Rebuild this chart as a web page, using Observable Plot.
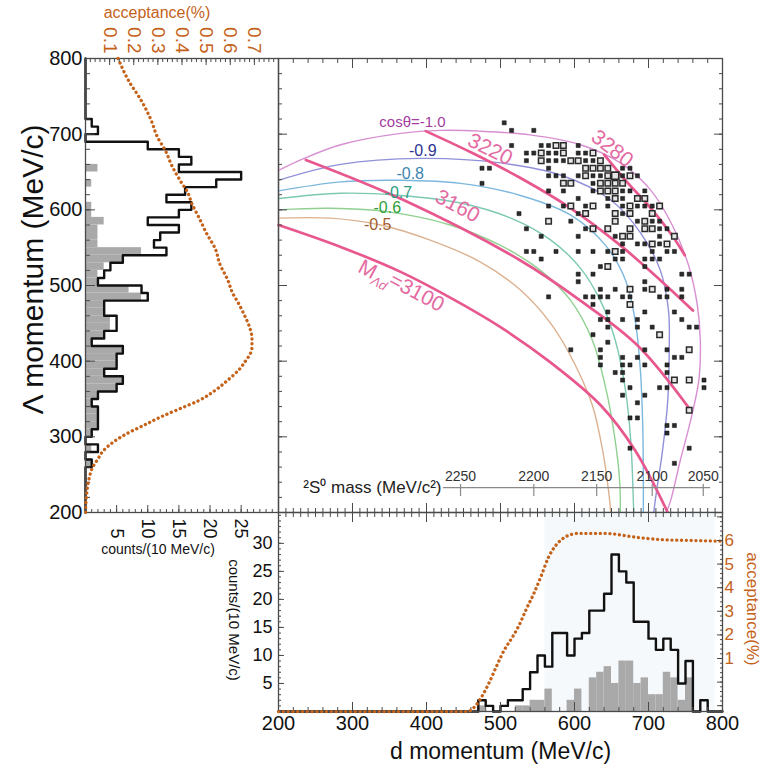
<!DOCTYPE html>
<html>
<head>
<meta charset="utf-8">
<script src="https://cdn.jsdelivr.net/npm/d3@7"></script>
<script src="https://cdn.jsdelivr.net/npm/@observablehq/plot@0.6"></script>
<style>
  html, body { margin: 0; padding: 0; background: #fff; }
  #chart { position: relative; width: 773px; height: 767px; overflow: hidden; }
  #chart svg { position: absolute; left: 0; top: 0; }
</style>
</head>
<body>
<div id="chart"></div>
<script>
// ================= DATA =================
// Λ-momentum projection (left panel), 10 MeV/c bins (bin start)
const lamBins = [200,210,220,230,240,250,260,270,280,290,300,310,320,330,340,350,360,370,380,390,
                 400,410,420,430,440,450,460,470,480,490,500,510,520,530,540,550,560,570,580,590,
                 600,610,620,630,640,650,660,670,680,690,700,710,720,730,740,750,760,770,780,790];
const lamBlack = [0,0,0,0,0,0,1,0,2,0, 1,2,2,2,1,2,5,6,3,5, 5,6,1,3,5,5,3,3,10,9,
                  2,3,4,6,13,11,12,15,10,15, 17,13,16,21,25,15,17,15,10,0, 2,1,0,0,0,0,0,0,0,0];
const lamGray  = [0,0,0,0,0,0,1,0,1,0, 1,2,2,2,1,2,5,6,3,5, 5,6,1,3,4,4,3,3,9,7,
                  2,2,3,6,9,2,2,2,3,1, 1,0,0,1,0,2,0,0,0,0, 0,0,0,0,0,0,0,0,0,0];

// d-momentum projection (bottom panel), 10 MeV/c bins (bin start)
const dBins = [200,210,220,230,240,250,260,270,280,290,300,310,320,330,340,350,360,370,380,390,
               400,410,420,430,440,450,460,470,480,490,500,510,520,530,540,550,560,570,580,590,
               600,610,620,630,640,650,660,670,680,690,700,710,720,730,740,750,760,770,780,790];
const dBlack = [0,0,0,0,0,0,0,0,0,0, 0,0,0,0,0,0,0,0,0,0, 0,0,0,0,0,0,0,2,1,0,
                1,2,2,4,7,10,8,14,14,10, 13,14,18,18,21,28,25,23,16,16, 13,11,13,11,5,9,0,2,0,0];
const dGray  = [0,0,0,0,0,0,0,0,0,0, 0,0,0,0,0,0,0,0,0,0, 0,0,0,0,0,0,0,1,0,0,
                0,0,1,1,2,2,4,0,0,2, 4,0,6,7,8,5,9,9,5,6, 3,3,7,6,2,6,0,0,0,0];
const shadeBand = [560, 790];

// acceptance curves
const leftAccLam = [800,770,745,720,695,679,657,640,622,609,590,570,547,530,507,490,476,460,445,430,
                    418,408,401,390,375,362,348,337,326,315,304,293,282,270,260,245,225,200];
const leftAccVal = [0.135,0.18,0.23,0.27,0.30,0.33,0.36,0.39,0.425,0.44,0.47,0.50,0.54,0.555,0.59,0.61,0.635,0.66,0.68,0.69,
                    0.69,0.68,0.665,0.64,0.59,0.54,0.47,0.39,0.31,0.24,0.17,0.115,0.075,0.05,0.03,0.015,0.005,0];
const bottomAccD   = [200,455,465,475,485,495,505,515,525,535,545,555,565,575,585,595,605,640,685,716,760,800];
const bottomAccVal = [-1.25,-1.25,-1.05,-0.6,0.0,0.7,1.35,1.85,2.4,3.1,3.75,4.5,5.3,5.8,6.1,6.25,6.3,6.3,6.13,6.04,6.0,5.97];

// tick labels
const lamTicks = [200,300,400,500,600,700,800];
const dTicks = [200,300,400,500,600,700,800];
const leftCountTicks = [5,10,15,20,25];
const bottomCountTicks = [5,10,15,20,25,30];
const leftAccTicks = [0.1,0.2,0.3,0.4,0.5,0.6,0.7];
const rightAccTicks = [1,2,3,4,5,6];

// cos(theta) kinematic curves  [d momentum, Λ momentum]
const cosM10 = [[200,652],[230,666],[284,686],[365,701],[419,705],[473,704],[540,699],[608,686],[662,662],[703,626],[732,580],[754,527],[766,474],[770,428],[768,375],[757,322],[743,269],[730,216],[724,200]];
const cosM09 = [[200,639],[284,660],[392,668],[500,662],[581,646],[649,613],[689,570],[716,520],[727,467],[728,414],[726,348],[719,282],[711,229],[707,200]];
const cosM08 = [[200,625],[284,637],[365,639],[446,635],[527,619],[595,593],[642,553],[669,507],[682,454],[689,388],[692,322],[693,256],[693,200]];
const cosM07 = [[200,615],[284,622],[365,619],[446,609],[514,589],[568,560],[608,523],[635,480],[655,428],[669,361],[676,295],[680,200]];
const cosM06 = [[200,600],[270,602],[351,597],[432,580],[500,553],[554,520],[595,480],[624,428],[643,361],[655,295],[661,242],[662,200]];
const cosM05 = [[200,589],[270,589],[338,580],[405,560],[473,531],[527,494],[570,447],[601,395],[624,342],[638,282],[646,229],[649,200]];
const cosLabelText = ["cosθ=-1.0","-0.9","-0.8","-0.7","-0.6","-0.5"];
const cosLabelD   = [381,395,378,362,347,334];
const cosLabelLam = [716,678,648,622,603,580];

// invariant-mass M_Λd contours
const lineM3100 = [[200,580],[284,551],[365,518],[432,484],[500,445],[568,398],[635,342],[682,282],[726,200]];
const lineM3160 = [[237,666],[369,613],[527,533],[608,480],[685,421],[757,335]];
const lineM3220 = [[399,704],[460,676],[527,642],[595,602],[662,553],[716,507],[760,467]];
const lineM3280 = [[640,673],[669,639],[705,600],[732,566],[749,540]];
const mLabelText = ["M_Λd=3100","3160","3220","3280"];
const mLabelD    = [365,442,486,651];
const mLabelLam  = [498,605,680,681];

// 2S0 mass scale
const massLabels = [2250,2200,2150,2100,2050];
const massTickD  = [446,545,630,705,774];
const massAxisD  = [423,784];
const massAxisLam = 233;

// scatter: [Λ momentum, [d momentum | [d momentum, counts]]]
const scatterRows = [
  [715, [505]],
  [705, [515, 545]],
  [685, [515, 555, 565, [575,2], [585,2], 605]],
  [675, [535, 545, [555,2], 565, 575, [585,2], 605, 615, [625,2]]],
  [665, [535, [555,2], 565, 575, 585, [595,2], [605,2], 615, 625, [635,2]]],
  [655, [475, 485, 565, [615,2], [625,2], [635,2], [645,2], 665, 675]],
  [645, [565, 575, 585, 605, [615,2], 625, 635, [645,2], [655,3], 665, [675,2], 685]],
  [635, [475, [585,2], [595,2], 625, [635,2], [645,2], [655,2], [665,2]]],
  [625, [565, 585, 625, [635,2], [645,2], [655,2], 665, 675, 695]],
  [615, [605, 645, [655,2], 665, [685,2], [695,2]]],
  [605, [565, 585, [595,2], 615, [625,2], 645, 665, [675,2], 685, 695, 705, [715,2]]],
  [595, [525, 605, [615,2], [655,2], 665, [675,2], [705,2]]],
  [585, [[565,2], 595, [655,2], 685, [695,2], 705, 715]],
  [575, [535, 615, [625,2], [645,2], [675,2], [695,2], [705,2], 715, 725]],
  [565, [555, 605, 655, [665,2], [675,2], 715, [735,2]]],
  [555, [665, 685, 695, [705,2], 715, [725,2]]],
  [545, [535, 545, 575, 605, 625, 645, [655,2], 665, 705, 725, 735]],
  [535, [555, 655, 665, 695, 705, 715]],
  [525, [635, [645,2], 695]],
  [515, [605, 625, 745, 755]],
  [505, [605, 695]],
  [495, [635, 655, [675,2], 695, [705,2], 725, 745]],
  [485, [565, 615, 625, 635, 645, 665, 675, 715, 725, 745]],
  [475, [625, [675,2]]],
  [465, [645, 695, 735]],
  [455, [635, 645, 665, 685, 745]],
  [445, [645, 685, 705, 755, 765]],
  [435, [625, [715,2]]],
  [425, [645]],
  [415, [595, 635, 695, 725, [755,2]]],
  [405, [635, 665, 685, 735, 745]],
  [395, [635, 665, 675, 695, 725]],
  [385, [655, 665, 725]],
  [375, [665, [735,2], [755,2], 775]],
  [365, [675, 715, 725, 775]],
  [355, [665, 695]],
  [345, [685]],
  [335, [[755,2]]],
  [325, [675, 685]],
  [315, [725, 735]],
  [305, [725]],
  [285, [675, 755]],
  [265, [735]]
];

// ================= STYLE / LAYOUT =================
const W = 773, H = 767;
const FONT = '"Liberation Sans", Arial, Helvetica, sans-serif';
const ORANGE = "#c5621a";
const PINK = "#e8588f";
const PINK_TXT = "#e46aa2";
const FRAME = "#4a4a4a";
const GRAY = "#a9a9a9";
const INK = "#111";
const cosStroke = ["#d88fd2","#9090da","#7cb8de","#7cc8b2","#90d090","#dcb190"];
const cosText   = ["#a53c9f","#2d3591","#3b86b0","#2c9c84","#2fa03a","#a0602c"];
const mRotate = [28, 28, 26, 38];
const box = {left: 85, split: 278, right: 722, top: 58, splitY: 512, bottom: 711};

function layer(opts) {
  return Plot.plot(Object.assign({
    width: W, height: H,
    style: {background: "transparent", overflow: "visible", fontFamily: FONT}
  }, opts));
}
const tickOnly = {tickFormat: () => "", label: null, stroke: FRAME};
const dotted = {stroke: ORANGE, strokeWidth: 3.3, strokeDasharray: "0.1 4.7", strokeLinecap: "round"};
const centered = {textAnchor: "middle", lineAnchor: "middle"};

// ---------- left panel: counts ----------
const leftRows = lamBins.map((lo, i) => ({lo, hi: lo + 10, black: lamBlack[i], gray: lamGray[i]}));
const leftOutline = leftRows.flatMap(r => [{c: r.black, lam: r.lo}, {c: r.black, lam: r.hi}]);
const leftMargins = {marginLeft: box.left, marginRight: W - box.split, marginTop: box.top, marginBottom: H - box.splitY};

const leftCounts = layer({
  ...leftMargins,
  x: {domain: [0, 31], axis: null, label: null},
  y: {domain: [200, 800], axis: null, label: null},
  marks: [
    Plot.rect(leftRows.filter(r => r.gray > 0), {x1: 0, x2: "gray", y1: "lo", y2: "hi", fill: GRAY}),
    Plot.line(leftOutline, {x: "c", y: "lam", stroke: INK, strokeWidth: 2.4}),
    Plot.frame({stroke: FRAME, strokeWidth: 1.3}),
    Plot.axisY({anchor: "left", ticks: d3.range(200, 801, 20), tickSize: -5, ...tickOnly}),
    Plot.axisY({anchor: "left", ticks: lamTicks, tickSize: -10, ...tickOnly}),
    Plot.axisY({anchor: "left", ticks: lamTicks, tickSize: 0, tickPadding: 3, fontSize: 20, label: null, fill: INK}),
    Plot.axisX({anchor: "bottom", ticks: d3.range(0, 31, 1), tickSize: -3, ...tickOnly}),
    Plot.axisX({anchor: "bottom", ticks: leftCountTicks, tickSize: -7, ...tickOnly}),
    Plot.text(leftCountTicks, {x: d => d, text: d => String(d), frameAnchor: "bottom", rotate: 90, textAnchor: "end", lineAnchor: "middle", dy: 26, fontSize: 18, fill: INK}),
    Plot.text(["counts/(10 MeV/c)"], {text: d => d, frameAnchor: "bottom", ...centered, dx: -24, dy: 37, fontSize: 14, fill: INK}),
    Plot.text(["Λ momentum (MeV/c)"], {text: d => d, frameAnchor: "left", ...centered, rotate: -90, dx: -52, dy: -16, fontSize: 30, fill: INK})
  ]
});

// ---------- left panel: acceptance ----------
const leftAccPts = leftAccLam.map((lam, i) => ({lam, acc: leftAccVal[i]}));
const leftAcc = layer({
  ...leftMargins,
  x: {domain: [0, 0.8], axis: null, label: null},
  y: {domain: [200, 800], axis: null, label: null},
  marks: [
    Plot.line(leftAccPts, {x: "acc", y: "lam", curve: "monotone-y", ...dotted}),
    Plot.axisX({anchor: "top", ticks: d3.range(0, 0.801, 0.02), tickSize: -3, ...tickOnly}),
    Plot.axisX({anchor: "top", ticks: leftAccTicks, tickSize: -6, ...tickOnly}),
    Plot.text(leftAccTicks, {x: d => d, text: d => d.toFixed(1), frameAnchor: "top", rotate: 90, textAnchor: "end", lineAnchor: "middle", dy: -5, fontSize: 19, fill: ORANGE}),
    Plot.text(["acceptance(%)"], {text: d => d, frameAnchor: "top", ...centered, dx: -25, dy: -46, fontSize: 16, fill: ORANGE})
  ]
});

// ---------- main scatter panel ----------
const toPts = arr => arr.map(([d, lam]) => ({d, lam}));
const cosCurves = [cosM10, cosM09, cosM08, cosM07, cosM06, cosM05];
const mCurves = [lineM3100, lineM3160, lineM3220, lineM3280];
const scatter = scatterRows.flatMap(([lam, cells]) =>
  cells.map(c => Array.isArray(c) ? {lam, d: c[0], n: c[1]} : {lam, d: c, n: 1}));
const M_RAW = mLabelText[0];

const mainPlot = layer({
  marginLeft: box.split, marginRight: W - box.right, marginTop: box.top, marginBottom: H - box.splitY,
  x: {domain: [200, 800], axis: null, label: null},
  y: {domain: [200, 800], axis: null, label: null},
  marks: [
    ...cosCurves.map((c, i) => Plot.line(toPts(c), {x: "d", y: "lam", stroke: cosStroke[i], strokeWidth: 1.4, curve: "catmull-rom"})),
    ...mCurves.map(c => Plot.line(toPts(c), {x: "d", y: "lam", stroke: PINK, strokeWidth: 2.7, curve: "catmull-rom"})),
    Plot.ruleY([massAxisLam], {y: d => d, x1: massAxisD[0], x2: massAxisD[1], stroke: "#8a8a8a", strokeWidth: 1.2}),
    Plot.ruleX(massTickD, {x: d => d, y1: massAxisLam + 4, y2: massAxisLam - 12, stroke: "#8a8a8a", strokeWidth: 1.2}),
    Plot.text(massLabels, {x: (d, i) => massTickD[i], y: massAxisLam, text: d => String(d), dy: -11, fontSize: 14, fill: "#333"}),
    Plot.text(["²S⁰ mass (MeV/c²)"], {x: massAxisD[0], y: massAxisLam, text: d => d, textAnchor: "end", dx: -2, fontSize: 17, fill: "#222"}),
    Plot.dot(scatter.filter(p => p.n === 1), {x: "d", y: "lam", symbol: "square", r: 2.3, fill: "#2b2b2b", stroke: "#111", strokeWidth: 0.5}),
    Plot.dot(scatter.filter(p => p.n === 2), {x: "d", y: "lam", symbol: "square", r: 3.1, fill: "#e6e6e6", stroke: "#2b2b2b", strokeWidth: 1.5}),
    Plot.dot(scatter.filter(p => p.n === 3), {x: "d", y: "lam", symbol: "square", r: 4.1, fill: "#e6e6e6", stroke: "#2b2b2b", strokeWidth: 1.8}),
    ...cosLabelText.map((t, i) => Plot.text([t], {x: cosLabelD[i], y: cosLabelLam[i], text: d => d, fill: cosText[i], fontSize: i === 0 ? 15 : 16})),
    ...mLabelText.map((t, i) => Plot.text([t], {x: mLabelD[i], y: mLabelLam[i], text: d => d, rotate: mRotate[i], fill: PINK_TXT, fontSize: 21})),
    Plot.frame({stroke: FRAME, strokeWidth: 1.3}),
    Plot.axisY({anchor: "left", ticks: d3.range(200, 801, 20), tickSize: -4, ...tickOnly}),
    Plot.axisY({anchor: "left", ticks: lamTicks, tickSize: -9, ...tickOnly}),
    Plot.axisY({anchor: "right", ticks: d3.range(200, 801, 20), tickSize: -4, ...tickOnly}),
    Plot.axisY({anchor: "right", ticks: lamTicks, tickSize: -9, ...tickOnly}),
    Plot.axisX({anchor: "top", ticks: d3.range(200, 801, 20), tickSize: -4, ...tickOnly}),
    Plot.axisX({anchor: "top", ticks: dTicks, tickSize: -9, ...tickOnly}),
    Plot.axisX({anchor: "bottom", ticks: d3.range(200, 801, 10), tickSize: -4, ...tickOnly}),
    Plot.axisX({anchor: "bottom", ticks: dTicks, tickSize: -9, ...tickOnly})
  ]
});
// subscript for M_Λd label
d3.select(mainPlot).selectAll("text").filter(function () { return this.textContent === M_RAW; }).each(function () {
  const t = d3.select(this);
  t.text(null);
  t.append("tspan").text("M");
  t.append("tspan").attr("dy", "0.35em").attr("font-size", "0.62em").attr("font-style", "italic").text("Λd");
  t.append("tspan").attr("dy", "-0.35em").text("=3100");
});

// ---------- bottom panel: counts ----------
const bottomRows = dBins.map((lo, i) => ({lo, hi: lo + 10, black: dBlack[i], gray: dGray[i]}));
const bottomOutline = bottomRows.flatMap(r => [{d: r.lo, c: r.black}, {d: r.hi, c: r.black}]);
const bottomMargins = {marginLeft: box.split, marginRight: W - box.right, marginTop: box.splitY, marginBottom: H - box.bottom};
const countMax = 35.5;

const bottomCounts = layer({
  ...bottomMargins,
  x: {domain: [200, 800], axis: null, label: null},
  y: {domain: [0, countMax], axis: null, label: null},
  marks: [
    Plot.rect([shadeBand], {x1: d => d[0], x2: d => d[1], y1: 0, y2: countMax, fill: "#f6f9fb"}),
    Plot.rect(bottomRows.filter(r => r.gray > 0), {x1: "lo", x2: "hi", y1: 0, y2: "gray", fill: GRAY}),
    Plot.line(bottomOutline, {x: "d", y: "c", stroke: INK, strokeWidth: 2.4}),
    Plot.frame({stroke: FRAME, strokeWidth: 1.3}),
    Plot.axisX({anchor: "top", ticks: d3.range(200, 801, 10), tickSize: -4, ...tickOnly}),
    Plot.axisX({anchor: "top", ticks: dTicks, tickSize: -9, ...tickOnly}),
    Plot.axisX({anchor: "bottom", ticks: d3.range(200, 801, 20), tickSize: -4, ...tickOnly}),
    Plot.axisX({anchor: "bottom", ticks: dTicks, tickSize: -9, ...tickOnly}),
    Plot.axisX({anchor: "bottom", ticks: dTicks, tickSize: 0, tickPadding: 4, fontSize: 20, label: null, fill: INK}),
    Plot.axisY({anchor: "left", ticks: d3.range(0, 36, 1), tickSize: -3, ...tickOnly}),
    Plot.axisY({anchor: "left", ticks: bottomCountTicks, tickSize: -6, ...tickOnly}),
    Plot.axisY({anchor: "left", ticks: bottomCountTicks, tickSize: 0, tickPadding: 6, fontSize: 18, label: null, fill: INK}),
    Plot.text(["d momentum (MeV/c)"], {text: d => d, frameAnchor: "bottom", ...centered, dy: 40, fontSize: 23, fill: INK}),
    Plot.text(["counts/(10 MeV/c)"], {text: d => d, frameAnchor: "left", ...centered, rotate: 90, dx: -45, dy: 8, fontSize: 15, fill: INK})
  ]
});

// ---------- bottom panel: acceptance ----------
const bottomAccPts = bottomAccD.map((d, i) => ({d, acc: bottomAccVal[i]}));
const bottomAcc = layer({
  ...bottomMargins,
  x: {domain: [200, 800], axis: null, label: null},
  y: {domain: [-1.246, 7.186], axis: null, label: null},
  marks: [
    Plot.line(bottomAccPts, {x: "d", y: "acc", curve: "monotone-x", ...dotted}),
    Plot.axisY({anchor: "right", ticks: d3.range(-1.2, 7.19, 0.2), tickSize: -3, ...tickOnly}),
    Plot.axisY({anchor: "right", ticks: [-1, 0, 1, 2, 3, 4, 5, 6, 7], tickSize: -6, ...tickOnly}),
    Plot.axisY({anchor: "right", ticks: rightAccTicks, tickSize: 0, tickPadding: 2, fontSize: 17, fill: ORANGE, label: null}),
    Plot.text(["acceptance(%)"], {text: d => d, frameAnchor: "right", ...centered, rotate: 90, dx: 30, dy: -3, fontSize: 17, fill: ORANGE})
  ]
});

const chart = document.getElementById("chart");
[leftCounts, leftAcc, mainPlot, bottomCounts, bottomAcc].forEach(svg => chart.appendChild(svg));
</script>
</body>
</html>
